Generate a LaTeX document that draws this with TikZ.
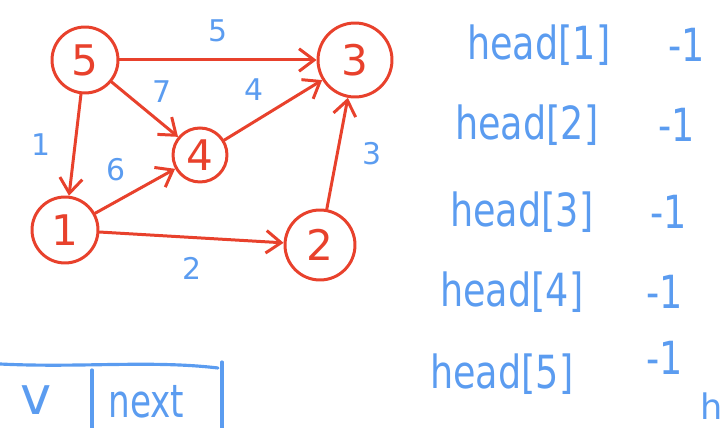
\documentclass[tikz,border=0pt]{standalone}
\usepackage{fontspec}
\setmainfont{DejaVu Sans}
\usepackage{graphicx}
\usetikzlibrary{arrows.meta,positioning}
\definecolor{inkred}{HTML}{E8412C}
\definecolor{inkblue}{HTML}{5B9CF0}
\tikzset{vert/.style={circle, draw=inkred, line width=1.7pt, text=inkred, font=\fontsize{24}{24}\selectfont, inner sep=0pt}, edge/.style={-{Straight Barb[length=3mm,width=4.5mm]}, line width=1.7pt, color=inkred, line cap=round}, wt/.style={font=\fontsize{17}{17}\selectfont, text=inkblue}, hd/.style={font=\fontsize{26}{26}\selectfont, text=inkblue, anchor=west, inner sep=0pt}, ink/.style={line width=1.8pt, color=inkblue, line cap=round}}

\begin{document}
\begin{tikzpicture}[x=0.02cm,y=-0.02cm]
\useasboundingbox (0,0) rectangle (725,428);
\clip (0,0) rectangle (725,428);
% graph
\node[vert, minimum size=1.32cm] (v5) at (85,60) {5};
\node[vert, minimum size=1.48cm] (v3) at (355,60) {3};
\node[vert, minimum size=1.08cm] (v4) at (200,155) {4};
\node[vert, minimum size=1.32cm] (v1) at (65,230) {1};
\node[vert, minimum size=1.40cm] (v2) at (320,245) {2};
\draw[edge] (v5) -- (v3) node[wt, midway, above=6pt] {5};
\draw[edge] (v5) -- (v4) node[wt, midway, above right=0pt] {7};
\draw[edge] (v5) -- (v1) node[wt, midway, left=10pt] {1};
\draw[edge] (v1) -- (v4) node[wt, midway, above left=2pt] {6};
\draw[edge] (v4) -- (v3) node[wt, midway, above left=2pt] {4};
\draw[edge] (v1) -- (v2) node[wt, midway, below=7pt] {2};
\draw[edge] (v2) -- (v3) node[wt, midway, right=10pt] {3};
% head array
\node[hd] (h1) at (467,45) {\scalebox{0.8}[1]{head[1]}};
\node[hd] (h2) at (455,125) {\scalebox{0.8}[1]{head[2]}};
\node[hd] (h3) at (450,212) {\scalebox{0.8}[1]{head[3]}};
\node[hd] (h4) at (440,292) {\scalebox{0.8}[1]{head[4]}};
\node[hd] (h5) at (430,374) {\scalebox{0.8}[1]{head[5]}};
\node[hd] (m1) at (668,45) {\scalebox{0.8}[1]{-1}};
\node[hd] (m2) at (658,125) {\scalebox{0.8}[1]{-1}};
\node[hd] (m3) at (650,212) {\scalebox{0.8}[1]{-1}};
\node[hd] (m4) at (646,292) {\scalebox{0.8}[1]{-1}};
\node[hd] (m5) at (646,358) {\scalebox{0.8}[1]{-1}};
% edge table
\draw[ink] (0,364) .. controls (80,368) and (150,360) .. (218,368);
\draw[ink] (92,370) -- (92,428);
\draw[ink] (222,362) -- (222,428);
\node[hd, font=\fontsize{30}{30}\selectfont] (tv) at (20,400) {v};
\node[hd] (tn) at (108,402) {\scalebox{0.75}[1]{next}};
\node[hd, font=\fontsize{20}{20}\selectfont] (th) at (700,406) {h};
\end{tikzpicture}
\end{document}
